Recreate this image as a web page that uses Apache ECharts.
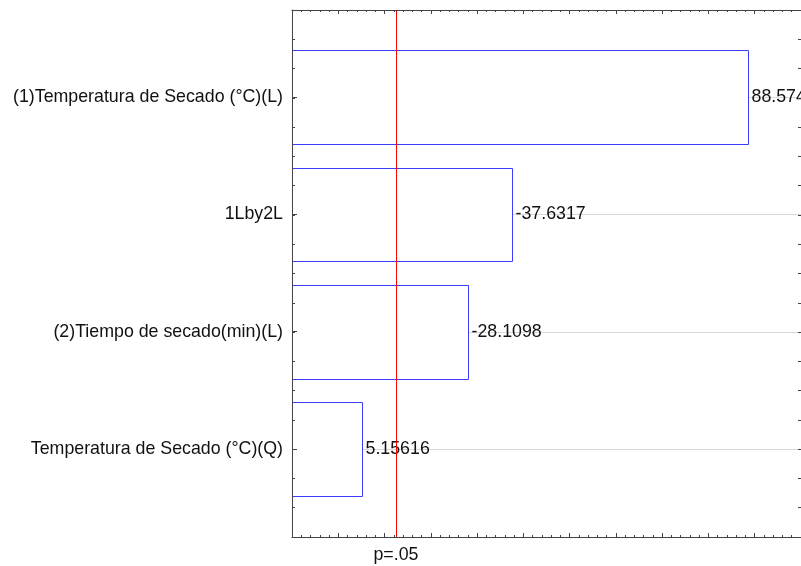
<!DOCTYPE html>
<html><head><meta charset="utf-8">
<script src="https://cdn.jsdelivr.net/npm/echarts@6/dist/echarts.min.js"></script>
<style>html,body{margin:0;padding:0;background:#fff}#c{width:801px;height:566px}</style>
</head><body><div id="c"></div>
<script>
// ---- data ----
const categories = [
  '(1)Temperatura de Secado (°C)(L)',
  '1Lby2L',
  '(2)Tiempo de secado(min)(L)',
  'Temperatura de Secado (°C)(Q)'
];
const effects = [88.5742, -37.6317, -28.1098, 5.15616];
const effectLabels = ['88.5742', '-37.6317', '-28.1098', '5.15616'];
const xMin = -10, xMax = 100, xInterval = 10;
const pValue = 12.46;
const pLabel = 'p=.05';

// ---- chart ----
const FONT = "'Liberation Sans', Arial, sans-serif";
const AXIS_COLOR = '#444';
const chart = echarts.init(document.getElementById('c'), null, {renderer: 'canvas'});

const barData = effects.map((e, i) => [Math.abs(e), i]);

function frameX(pos) {
  return {
    gridIndex: 0, type: 'value', position: pos, min: xMin, max: xMax, interval: xInterval, z: 10,
    axisLine: {show: true, onZero: false, lineStyle: {color: AXIS_COLOR, width: 1}},
    axisTick: {show: true, inside: true, length: 4, lineStyle: {color: AXIS_COLOR}},
    minorTick: {show: true, splitNumber: 5, length: 2, lineStyle: {color: AXIS_COLOR}},
    axisLabel: {show: false}, splitLine: {show: false}
  };
}
function frameY(pos, inverse) {
  return {
    gridIndex: 0, type: 'value', position: pos, min: 0, max: 18, interval: 1, inverse: inverse, z: 10,
    axisLine: {show: true, onZero: false, lineStyle: {color: AXIS_COLOR, width: 1}},
    axisTick: {show: true, inside: true, length: 3, lineStyle: {color: AXIS_COLOR}},
    axisLabel: {show: false}, splitLine: {show: false}
  };
}

const option = {
  animation: false,
  backgroundColor: '#fff',
  grid: [
    {left: 292, top: 10, width: 509, height: 527},
    {left: 292, top: 38.6, width: 509, height: 469}
  ],
  xAxis: [
    frameX('bottom'),
    frameX('top'),
    {gridIndex: 1, type: 'value', min: xMin, max: xMax, show: false}
  ],
  yAxis: [
    frameY('left', true),
    frameY('right', false),
    {
      gridIndex: 1, type: 'category', data: categories, inverse: true, position: 'left', z: 10,
      axisLine: {show: false, onZero: false},
      axisTick: {show: true, inside: true, alignWithLabel: true, length: 5, lineStyle: {color: AXIS_COLOR}},
      axisLabel: {show: true, margin: 9, fontFamily: FONT, fontSize: 17.8, color: '#111'},
      splitLine: {show: false}
    }
  ],
  series: [
    {
      type: 'line', xAxisIndex: 0, yAxisIndex: 1, data: [], silent: true,
      markLine: {
        silent: true, symbol: 'none', animation: false,
        lineStyle: {color: '#ff0000', type: 'solid', width: 1},
        label: {show: true, position: 'start', distance: 9, formatter: pLabel,
                fontFamily: FONT, fontSize: 17.8, color: '#111'},
        data: [{xAxis: pValue}]
      },
      z: 5
    },
    {
      type: 'custom', xAxisIndex: 2, yAxisIndex: 2, data: barData, z: 3,
      encode: {x: 0, y: 1},
      renderItem: function (params, api) {
        const v = api.value(0), idx = api.value(1);
        const start = api.coord([xMin, idx]);
        const end = api.coord([v, idx]);
        const right = api.coord([xMax, idx]);
        const h = api.size([0, 1])[1] * 0.8;
        const cy = Math.round(end[1]) + 0.5;
        const x0 = Math.round(start[0]) + 0.5;
        const x1 = Math.round(end[0]) + 0.5;
        const yTop = Math.round(end[1] - h / 2) + 0.5;
        const yBot = Math.round(end[1] + h / 2) + 0.5;
        return {
          type: 'group',
          children: [
            {type: 'line', shape: {x1: x1, y1: cy, x2: right[0], y2: cy},
             style: {stroke: '#d9d9d9', lineWidth: 1}},
            {type: 'rect', shape: {x: x0, y: yTop, width: x1 - x0, height: yBot - yTop},
             style: {fill: 'rgba(255,255,255,0)', stroke: '#3c3cff', lineWidth: 1}},
            {type: 'text', x: x1 + 3, y: end[1],
             style: {text: effectLabels[params.dataIndex], fill: '#111', font: '17.8px ' + FONT,
                     textAlign: 'left', textVerticalAlign: 'middle'}}
          ]
        };
      }
    }
  ]
};
chart.setOption(option);
</script></body></html>
